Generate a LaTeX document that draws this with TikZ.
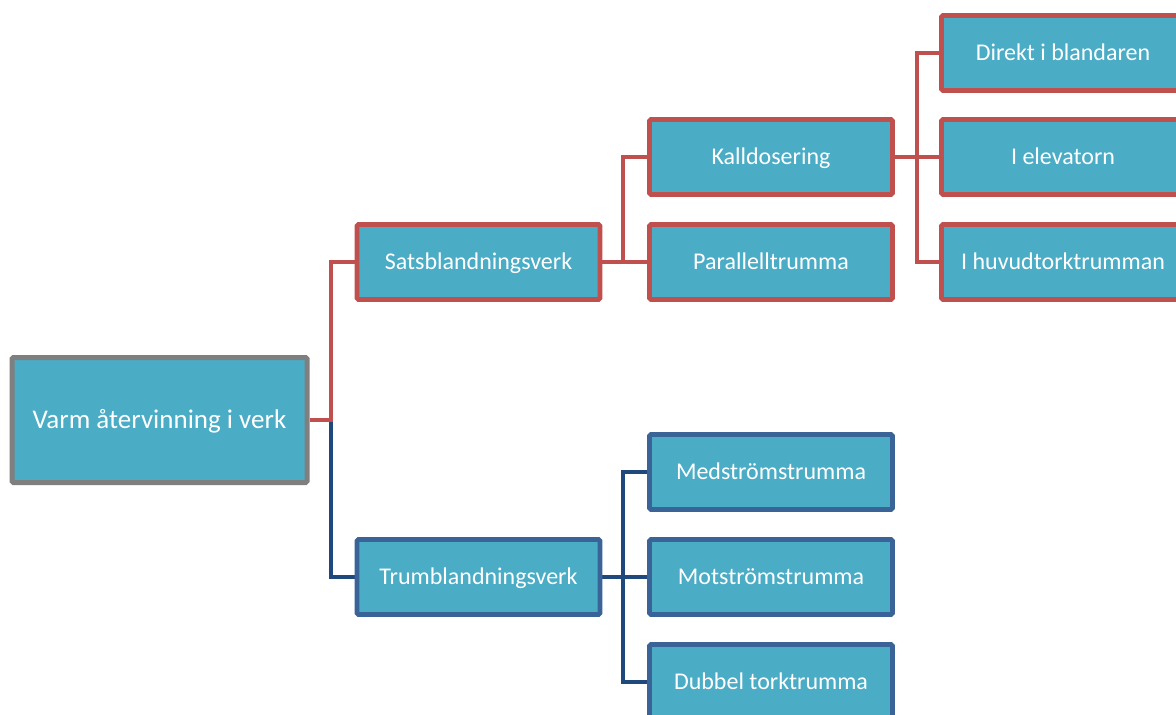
\documentclass[tikz,border=0pt]{standalone}
\usepackage{fontspec}
\setmainfont{Carlito}
\usetikzlibrary{backgrounds}
\definecolor{boxfill}{HTML}{4BACC6}
\definecolor{redb}{HTML}{C0504D}
\definecolor{blueb}{HTML}{3A6497}
\definecolor{bluel}{HTML}{1F497D}
\definecolor{grayb}{HTML}{7F7F7F}
\begin{document}
\begin{tikzpicture}[x=1pt,y=-1pt,
  box/.style={draw, fill=boxfill, line width=4.8pt, rounded corners=1.5pt, minimum width=243pt, minimum height=75pt, inner sep=0pt, text height=18.5pt, text depth=3pt, text=white, font=\fontsize{24}{28}\selectfont},
  redbox/.style={box, draw=redb},
  bluebox/.style={box, draw=blueb},
  rootbox/.style={box, draw=grayb, line width=5pt, minimum width=295pt, minimum height=125pt, text height=21pt, text depth=3.6pt, font=\fontsize{27}{32}\selectfont},
  redline/.style={draw=redb, line width=4.2pt},
  blueline/.style={draw=bluel, line width=4.2pt}]
\useasboundingbox (0,0) rectangle (1176,715);
\begin{scope}
\clip (0,0) rectangle (1176,715);
\coordinate (j1) at (331,420);
\coordinate (j2) at (623,262);
\coordinate (j3) at (623,577);
\coordinate (j4) at (917,157);
\node[rootbox] (root) at (159.5,420) {Varm återvinning i verk};
\node[redbox] (sats) at (478.5,262) {Satsblandningsverk};
\node[bluebox] (trum) at (478.5,577) {Trumblandningsverk};
\node[redbox] (kall) at (771,157) {Kalldosering};
\node[redbox] (para) at (771,262) {Parallelltrumma};
\node[bluebox] (med) at (771,472) {Medströmstrumma};
\node[bluebox] (mot) at (771,577) {Motströmstrumma};
\node[bluebox] (dub) at (771,682) {Dubbel torktrumma};
\node[redbox] (dir) at (1063,53) {Direkt i blandaren};
\node[redbox] (ele) at (1063,157) {I elevatorn};
\node[redbox] (huv) at (1063,262) {I huvudtorktrumman};
\begin{scope}[on background layer]
\draw[blueline] (j1) |- (trum.west);
\draw[redline] (root.east) -- (j1) |- (sats.west);
\draw[redline] (sats.east) -- (j2) |- (kall.west);
\draw[redline] (j2) -- (para.west);
\draw[blueline] (trum.east) -- (j3) |- (med.west);
\draw[blueline] (j3) -- (mot.west);
\draw[blueline] (j3) |- (dub.west);
\draw[redline] (kall.east) -- (j4) |- (dir.west);
\draw[redline] (j4) -- (ele.west);
\draw[redline] (j4) |- (huv.west);
\end{scope}
\end{scope}
\end{tikzpicture}
\end{document}
